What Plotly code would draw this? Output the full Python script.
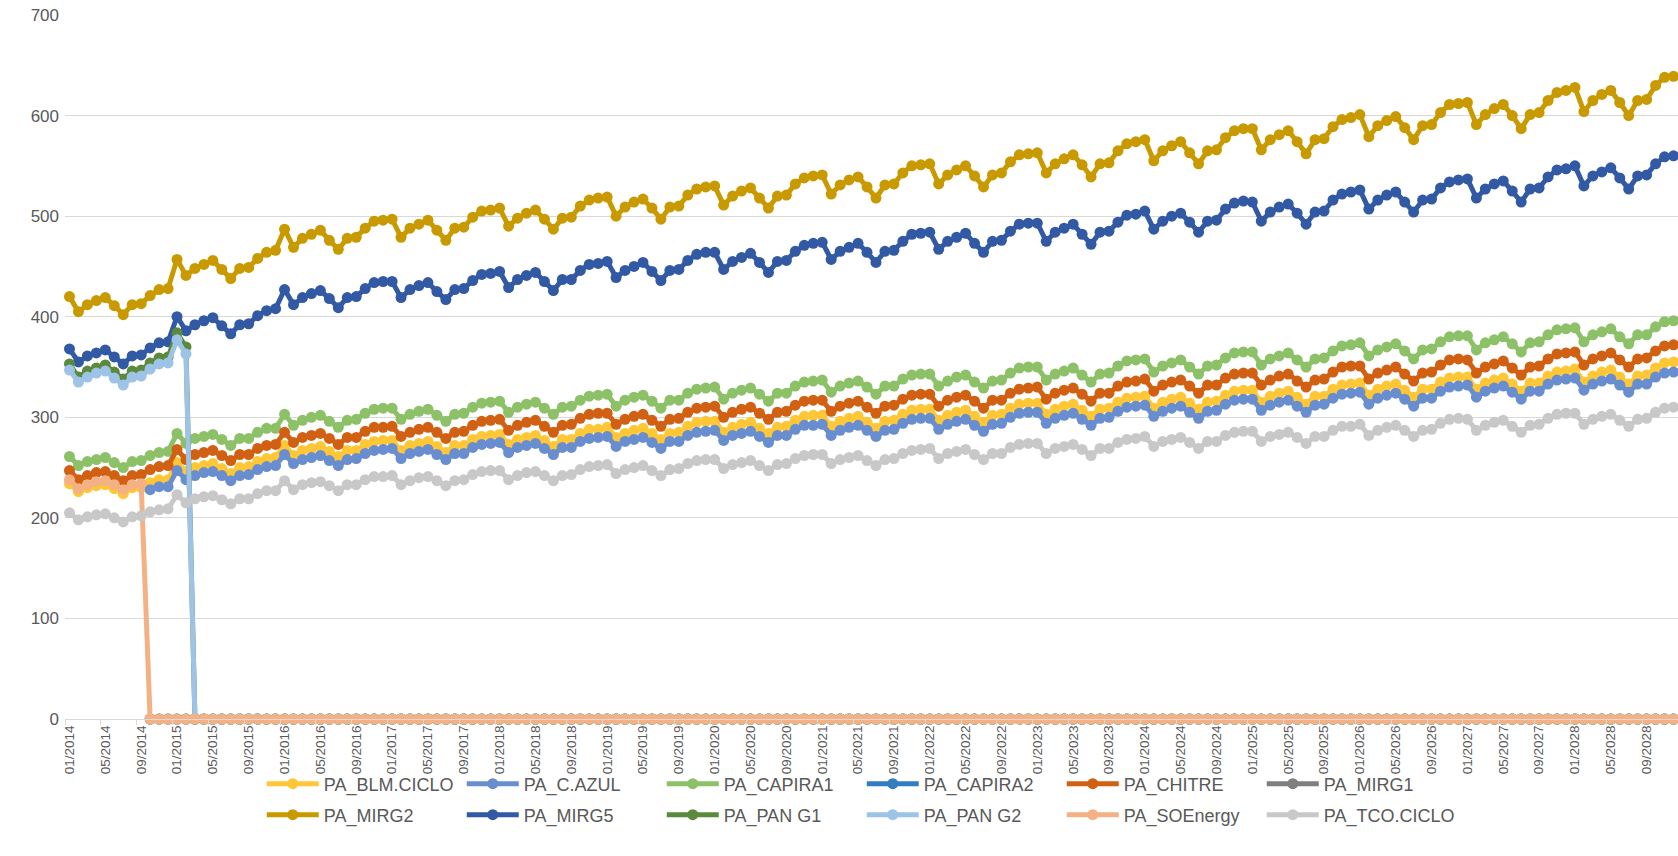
import plotly.graph_objects as go

years = list(range(2014, 2029))
months = [f"{m:02d}/{y}" for y in years for m in range(1, 13)]

BLM_CICLO = [
    234, 226, 230, 232, 233, 229, 224, 230, 230, 235, 238, 238,
    255, 246, 250, 252, 254, 249, 244, 250, 251, 256, 259, 260,
    272, 262, 267, 269, 271, 266, 261, 267, 267, 273, 276, 277,
    277, 267, 272, 274, 276, 271, 265, 272, 272, 278, 281, 282,
    283, 273, 278, 280, 282, 277, 271, 278, 278, 284, 288, 288,
    290, 280, 284, 287, 289, 284, 278, 284, 285, 291, 295, 296,
    296, 285, 290, 293, 295, 289, 284, 290, 291, 297, 301, 302,
    302, 291, 296, 299, 301, 295, 289, 296, 297, 303, 307, 308,
    308, 297, 302, 305, 307, 301, 295, 302, 303, 309, 313, 314,
    314, 303, 308, 311, 313, 307, 301, 308, 309, 315, 319, 320,
    321, 309, 315, 318, 320, 314, 308, 315, 316, 322, 326, 327,
    327, 315, 321, 324, 326, 320, 313, 321, 321, 328, 332, 333,
    334, 322, 328, 331, 333, 327, 320, 328, 328, 335, 339, 340,
    340, 328, 334, 337, 339, 333, 326, 334, 334, 341, 345, 346,
    348, 335, 341, 345, 347, 340, 333, 341, 342, 349, 354, 355,
]

C_AZUL = [
    None, None, None, None, None, None, None, None, None, 228, 231, 231,
    247, 238, 242, 245, 246, 242, 237, 242, 243, 248, 251, 252,
    263, 254, 258, 260, 262, 257, 252, 258, 259, 264, 267, 268,
    269, 259, 264, 266, 268, 263, 258, 264, 264, 270, 273, 274,
    275, 265, 270, 272, 274, 269, 263, 270, 270, 276, 279, 280,
    281, 271, 276, 278, 280, 275, 269, 276, 276, 282, 285, 286,
    287, 277, 282, 284, 286, 281, 275, 282, 282, 288, 292, 292,
    293, 282, 287, 290, 292, 287, 281, 287, 288, 294, 298, 299,
    299, 288, 293, 296, 298, 292, 286, 293, 294, 300, 304, 305,
    305, 294, 299, 302, 304, 298, 292, 299, 300, 306, 310, 311,
    312, 301, 306, 309, 311, 305, 299, 306, 307, 313, 317, 318,
    318, 307, 312, 315, 317, 311, 305, 312, 313, 319, 323, 324,
    325, 313, 319, 322, 324, 318, 311, 319, 319, 326, 330, 331,
    332, 320, 326, 329, 331, 325, 318, 326, 326, 333, 337, 338,
    339, 327, 333, 336, 338, 332, 325, 333, 333, 340, 344, 345,
]

CAPIRA1 = [
    261, 252, 256, 258, 260, 255, 250, 256, 257, 262, 265, 266,
    284, 274, 279, 281, 283, 278, 272, 279, 279, 285, 289, 289,
    303, 292, 297, 300, 302, 296, 290, 297, 298, 304, 308, 309,
    309, 298, 303, 306, 308, 302, 296, 303, 304, 310, 314, 315,
    316, 305, 310, 313, 315, 309, 303, 310, 311, 317, 321, 322,
    323, 311, 317, 320, 322, 316, 309, 317, 317, 324, 328, 329,
    330, 318, 324, 327, 329, 323, 316, 324, 324, 331, 335, 336,
    337, 325, 331, 334, 336, 330, 323, 331, 331, 338, 342, 343,
    343, 331, 336, 340, 342, 335, 329, 336, 337, 344, 349, 350,
    350, 337, 343, 346, 349, 342, 335, 343, 344, 351, 356, 357,
    358, 345, 351, 354, 357, 350, 343, 351, 352, 359, 364, 365,
    365, 352, 358, 361, 364, 357, 350, 358, 359, 366, 371, 372,
    374, 361, 367, 370, 373, 366, 358, 367, 368, 375, 380, 381,
    381, 367, 374, 377, 380, 373, 365, 374, 375, 382, 387, 388,
    389, 375, 382, 385, 388, 380, 373, 382, 382, 390, 395, 396,
]

CAPIRA2 = [None] * 9 + [0] * 171

CHITRE = [
    247, 238, 242, 245, 246, 242, 237, 242, 243, 248, 251, 252,
    268, 258, 263, 265, 267, 262, 257, 263, 263, 269, 272, 273,
    285, 275, 280, 282, 284, 279, 273, 280, 280, 286, 290, 290,
    291, 281, 285, 288, 290, 285, 279, 285, 286, 292, 296, 297,
    298, 287, 292, 295, 297, 291, 285, 292, 293, 299, 303, 304,
    304, 293, 298, 301, 303, 297, 291, 298, 299, 305, 309, 310,
    311, 300, 305, 308, 310, 304, 298, 305, 306, 312, 316, 317,
    317, 306, 311, 314, 316, 310, 304, 311, 312, 318, 322, 323,
    323, 311, 317, 320, 322, 316, 309, 317, 317, 324, 328, 329,
    330, 318, 324, 327, 329, 323, 316, 324, 324, 331, 335, 336,
    338, 326, 332, 335, 337, 331, 324, 332, 332, 339, 343, 344,
    344, 332, 337, 341, 343, 336, 330, 337, 338, 345, 350, 351,
    351, 338, 344, 347, 350, 343, 336, 344, 345, 352, 357, 358,
    357, 344, 350, 353, 356, 349, 342, 350, 351, 358, 363, 364,
    365, 352, 358, 361, 364, 357, 350, 358, 359, 366, 371, 372,
]

MIRG1 = [None] * 9 + [0] * 171

MIRG2 = [
    420, 405, 412, 416, 419, 411, 402, 412, 413, 421, 427, 428,
    457, 441, 448, 452, 456, 447, 438, 448, 449, 458, 464, 466,
    487, 469, 478, 482, 486, 476, 467, 478, 479, 488, 495, 496,
    497, 479, 488, 492, 496, 486, 476, 488, 489, 499, 505, 506,
    508, 490, 498, 503, 506, 497, 487, 498, 499, 510, 516, 518,
    519, 500, 509, 514, 517, 508, 497, 509, 510, 521, 527, 529,
    530, 511, 520, 525, 528, 518, 508, 520, 521, 532, 538, 540,
    541, 522, 531, 536, 539, 529, 518, 531, 532, 543, 550, 551,
    552, 532, 541, 546, 550, 540, 529, 541, 543, 554, 561, 562,
    563, 543, 552, 557, 561, 551, 539, 552, 553, 565, 572, 574,
    576, 555, 565, 570, 574, 563, 552, 565, 566, 578, 585, 587,
    587, 566, 576, 581, 585, 574, 562, 576, 577, 589, 596, 598,
    601, 579, 590, 595, 599, 588, 576, 590, 591, 603, 611, 612,
    613, 591, 601, 607, 611, 600, 587, 601, 603, 615, 623, 625,
    628, 604, 615, 621, 625, 613, 600, 615, 616, 630, 638, 639,
]

MIRG5 = [
    368, 355, 361, 364, 367, 360, 353, 361, 362, 369, 374, 375,
    400, 386, 392, 396, 399, 391, 383, 392, 393, 401, 406, 408,
    427, 412, 419, 423, 426, 418, 409, 419, 420, 428, 434, 435,
    435, 419, 427, 431, 434, 425, 417, 427, 428, 436, 442, 443,
    445, 429, 437, 441, 444, 435, 426, 437, 437, 446, 452, 453,
    455, 439, 446, 450, 454, 445, 436, 446, 447, 456, 462, 464,
    464, 447, 455, 459, 463, 454, 444, 455, 456, 465, 471, 473,
    474, 457, 465, 469, 473, 464, 454, 465, 466, 475, 482, 483,
    484, 467, 475, 479, 483, 473, 464, 475, 476, 485, 492, 493,
    493, 475, 484, 488, 492, 482, 472, 484, 485, 494, 501, 502,
    505, 487, 495, 500, 503, 494, 484, 495, 496, 507, 513, 515,
    514, 495, 504, 509, 512, 503, 492, 504, 505, 516, 522, 524,
    526, 507, 516, 521, 524, 514, 504, 516, 517, 528, 534, 536,
    537, 518, 527, 532, 535, 525, 514, 527, 528, 539, 546, 547,
    550, 530, 540, 544, 548, 538, 527, 540, 541, 552, 559, 560,
]

PAN_G1 = [353, 340, 346, 349, 352, 345, 338, 346, 347, 354, 359, 360,
          384, 370] + [0] * 166

PAN_G2 = [347, 335, 340, 344, 346, 339, 332, 340, 341, 348, 353, 354,
          377, 363] + [0] * 166

SOENERGY = [238, 229, 233, 236, 237, 233, 228, 233, 234] + [0] * 171

TCO_CICLO = [
    205, 198, 201, 203, 204, 200, 196, 201, 202, 206, 208, 209,
    223, 215, 219, 221, 222, 218, 214, 219, 219, 224, 227, 227,
    237, 228, 233, 235, 236, 232, 227, 233, 233, 238, 241, 241,
    242, 233, 237, 240, 241, 237, 232, 237, 238, 243, 246, 247,
    247, 238, 242, 245, 246, 242, 237, 242, 243, 248, 251, 252,
    253, 244, 248, 250, 252, 247, 242, 248, 249, 254, 257, 258,
    258, 249, 253, 255, 257, 252, 247, 253, 254, 259, 262, 263,
    263, 254, 258, 260, 262, 257, 252, 258, 259, 264, 267, 268,
    269, 259, 264, 266, 268, 263, 258, 264, 264, 270, 273, 274,
    274, 264, 269, 271, 273, 268, 262, 269, 269, 275, 278, 279,
    281, 271, 276, 278, 280, 275, 269, 276, 276, 282, 285, 286,
    286, 276, 281, 283, 285, 280, 274, 281, 281, 287, 291, 291,
    293, 282, 287, 290, 292, 287, 281, 287, 288, 294, 298, 299,
    298, 287, 292, 295, 297, 291, 285, 292, 293, 299, 303, 304,
    304, 293, 298, 301, 303, 297, 291, 298, 299, 305, 309, 310,
]

series_names = ["PA_BLM.CICLO", "PA_C.AZUL", "PA_CAPIRA1", "PA_CAPIRA2",
                "PA_CHITRE", "PA_MIRG1", "PA_MIRG2", "PA_MIRG5",
                "PA_PAN G1", "PA_PAN G2", "PA_SOEnergy", "PA_TCO.CICLO"]
series_values = [BLM_CICLO, C_AZUL, CAPIRA1, CAPIRA2, CHITRE, MIRG1,
                 MIRG2, MIRG5, PAN_G1, PAN_G2, SOENERGY, TCO_CICLO]
series_colors = ["#FFC736", "#698ED0", "#8CC168", "#327DC2", "#D26012",
                 "#7F7F7F", "#C99A00", "#325AA4", "#5B8A3C", "#9DC3E6",
                 "#F4B183", "#C8C8C8"]

fig = go.Figure()
for i, (name, vals, color) in enumerate(zip(series_names, series_values, series_colors)):
    fig.add_trace(go.Scatter(
        x=months, y=vals, name=name, mode="lines+markers",
        line=dict(color=color, width=5),
        marker=dict(color=color, size=11),
        cliponaxis=False,
        legend="legend" if i < 6 else "legend2",
    ))

FONT = "Liberation Sans, Arial, sans-serif"
legend_common = dict(
    orientation="h", xref="container", yref="container",
    x=0.156, xanchor="left", yanchor="middle",
    entrywidth=133, itemwidth=52,
    font=dict(size=18, color="#595959", family=FONT),
    bgcolor="rgba(0,0,0,0)", traceorder="normal",
)

fig.update_layout(
    width=1678, height=856,
    margin=dict(l=65, r=0, t=15, b=137),
    paper_bgcolor="white", plot_bgcolor="white",
    font=dict(family=FONT, color="#595959"),
    showlegend=True,
    xaxis=dict(
        type="category", range=[-0.5, 179.5], automargin=False,
        tickmode="linear", tick0=0, dtick=4, tickson="boundaries",
        tickangle=-90, showgrid=False, zeroline=False,
        showline=True, linecolor="#D9D9D9", linewidth=1,
        ticks="outside", ticklen=5, tickcolor="#D9D9D9",
        tickfont=dict(size=13.5, color="#595959", family=FONT),
    ),
    yaxis=dict(
        range=[0, 700], tick0=0, dtick=100, automargin=False,
        showgrid=True, gridcolor="#D9D9D9", gridwidth=1,
        zeroline=False, showline=False, ticks="",
        tickfont=dict(size=17, color="#595959", family=FONT),
        ticklabelstandoff=5,
    ),
    legend=dict(y=1 - 784 / 856, **legend_common),
    legend2=dict(y=1 - 815 / 856, **legend_common),
)

fig.write_html("out.html", config={"displayModeBar": False},
               post_script="document.body.style.margin='0px';")
